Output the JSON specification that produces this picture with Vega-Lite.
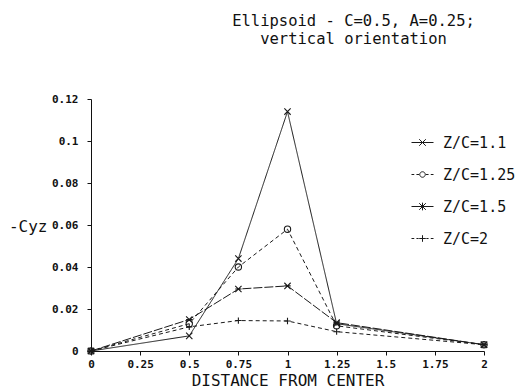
{
  "$schema": "https://vega.github.io/schema/vega-lite/v6.json",
  "autosize": "none",
  "width": 393,
  "height": 252,
  "padding": {"left": 91, "top": 99, "right": 42, "bottom": 39},
  "background": "white",
  "config": {"view": {"stroke": null}},
  "title": {
    "text": ["Ellipsoid - C=0.5, A=0.25;", "vertical orientation"],
    "font": "DejaVu Sans Mono",
    "fontSize": 15.5,
    "fontWeight": "normal",
    "color": "#111",
    "lineHeight": 18,
    "anchor": "middle",
    "dx": 66,
    "offset": 46
  },
  "data": {
    "values": [
      {"x": 0, "y": 0, "s": "Z/C=1.1"},
      {"x": 0.5, "y": 0.0072, "s": "Z/C=1.1"},
      {"x": 0.75, "y": 0.044, "s": "Z/C=1.1"},
      {"x": 1, "y": 0.114, "s": "Z/C=1.1"},
      {"x": 1.25, "y": 0.013, "s": "Z/C=1.1"},
      {"x": 2, "y": 0.003, "s": "Z/C=1.1"},
      {"x": 0, "y": 0, "s": "Z/C=1.25"},
      {"x": 0.5, "y": 0.013, "s": "Z/C=1.25"},
      {"x": 0.75, "y": 0.040, "s": "Z/C=1.25"},
      {"x": 1, "y": 0.058, "s": "Z/C=1.25"},
      {"x": 1.25, "y": 0.012, "s": "Z/C=1.25"},
      {"x": 2, "y": 0.003, "s": "Z/C=1.25"},
      {"x": 0, "y": 0, "s": "Z/C=1.5"},
      {"x": 0.5, "y": 0.015, "s": "Z/C=1.5"},
      {"x": 0.75, "y": 0.0295, "s": "Z/C=1.5"},
      {"x": 1, "y": 0.031, "s": "Z/C=1.5"},
      {"x": 1.25, "y": 0.0135, "s": "Z/C=1.5"},
      {"x": 2, "y": 0.003, "s": "Z/C=1.5"},
      {"x": 0, "y": 0, "s": "Z/C=2"},
      {"x": 0.5, "y": 0.0115, "s": "Z/C=2"},
      {"x": 0.75, "y": 0.0145, "s": "Z/C=2"},
      {"x": 1, "y": 0.0143, "s": "Z/C=2"},
      {"x": 1.25, "y": 0.0092, "s": "Z/C=2"},
      {"x": 2, "y": 0.003, "s": "Z/C=2"}
    ]
  },
  "layer": [
    {
      "mark": {"type": "line", "color": "#1a1a1a", "strokeWidth": 1},
      "encoding": {
        "x": {
          "field": "x", "type": "quantitative",
          "scale": {"domain": [0, 2], "nice": false, "zero": false},
          "axis": {
            "orient": "bottom",
            "values": [0, 0.25, 0.5, 0.75, 1, 1.25, 1.5, 1.75, 2],
            "labelExpr": "'' + datum.value",
            "grid": false,
            "domainColor": "#111",
            "tickColor": "#111",
            "tickSize": 4,
            "labelPadding": 3,
            "labelFont": "DejaVu Sans Mono",
            "labelFontSize": 11,
            "labelFontWeight": "bold",
            "labelColor": "#111",
            "labelFlush": false,
            "title": "DISTANCE FROM CENTER",
            "titleFont": "DejaVu Sans Mono",
            "titleFontSize": 16,
            "titleFontWeight": "normal",
            "titleColor": "#111",
            "titleY": 34,
            "titleBaseline": "alphabetic",
            "titleAlign": "center"
          }
        },
        "y": {
          "field": "y", "type": "quantitative",
          "scale": {"domain": [0, 0.12], "nice": false},
          "axis": {
            "orient": "left",
            "values": [0, 0.02, 0.04, 0.06, 0.08, 0.1, 0.12],
            "labelExpr": "'' + datum.value",
            "grid": false,
            "domainColor": "#111",
            "tickColor": "#111",
            "tickSize": 4,
            "labelPadding": 9,
            "labelFont": "DejaVu Sans Mono",
            "labelFontSize": 11,
            "labelFontWeight": "bold",
            "labelColor": "#111",
            "labelFlush": false,
            "title": "-Cyz",
            "titleFont": "DejaVu Sans Mono",
            "titleFontSize": 16,
            "titleFontWeight": "normal",
            "titleColor": "#111",
            "titleAngle": 0,
            "titleAlign": "right",
            "titleBaseline": "middle",
            "titleX": -44,
            "titleY": 127
          }
        },
        "detail": {"field": "s"},
        "strokeDash": {
          "field": "s", "type": "nominal",
          "scale": {
            "domain": ["Z/C=1.1", "Z/C=1.25", "Z/C=1.5", "Z/C=2"],
            "range": [[1, 0], [4, 3], [9, 2], [4, 3]]
          },
          "legend": null
        }
      }
    },
    {
      "mark": {"type": "point", "filled": false, "stroke": "#1a1a1a", "strokeWidth": 1.1, "size": 40, "opacity": 1},
      "encoding": {
        "x": {"field": "x", "type": "quantitative"},
        "y": {"field": "y", "type": "quantitative"},
        "shape": {
          "field": "s", "type": "nominal",
          "scale": {
            "domain": ["Z/C=1.1", "Z/C=1.25", "Z/C=1.5", "Z/C=2"],
            "range": [
              "M-1,-1L1,1M-1,1L1,-1",
              "M1,0A1,1 0 1,1 -1,0A1,1 0 1,1 1,0",
              "M-1,-1L1,1M-1,1L1,-1M-1,0H1",
              "M-1,0H1M0,-1V1"
            ]
          },
          "legend": null
        }
      }
    },
    {
      "mark": {"type": "point", "filled": false, "opacity": 0, "size": 484},
      "encoding": {
        "x": {"field": "x", "type": "quantitative"},
        "y": {"field": "y", "type": "quantitative"},
        "shape": {
          "field": "s", "type": "nominal",
          "scale": {
            "domain": ["Z/C=1.1", "Z/C=1.25", "Z/C=1.5", "Z/C=2"],
            "range": [
              "M-1,0H1M-0.3,-0.3L0.3,0.3M-0.3,0.3L0.3,-0.3",
              "M-1,0H-0.75M-0.55,0H-0.3M0.3,0H0.55M0.75,0H1M0.25,0A0.25,0.25 0 1,1 -0.25,0A0.25,0.25 0 1,1 0.25,0",
              "M-1,0H1M-0.3,-0.3L0.3,0.3M-0.3,0.3L0.3,-0.3M0,-0.35V0.35",
              "M-1,0H-0.75M-0.55,0H-0.35M0.35,0H0.55M0.75,0H1M-0.3,0H0.3M0,-0.3V0.3"
            ]
          },
          "legend": {
            "title": null,
            "orient": "none",
            "legendX": 320,
            "legendY": 32,
            "symbolSize": 484,
            "symbolOpacity": 1,
            "symbolStrokeColor": "#1a1a1a",
            "symbolFillColor": "transparent",
            "symbolStrokeWidth": 1,
            "labelFont": "DejaVu Sans Mono",
            "labelFontSize": 15,
            "labelColor": "#111",
            "labelOffset": 9,
            "rowPadding": 12
          }
        }
      }
    }
  ],
  "resolve": {
    "scale": {"shape": "independent"}
  }
}
